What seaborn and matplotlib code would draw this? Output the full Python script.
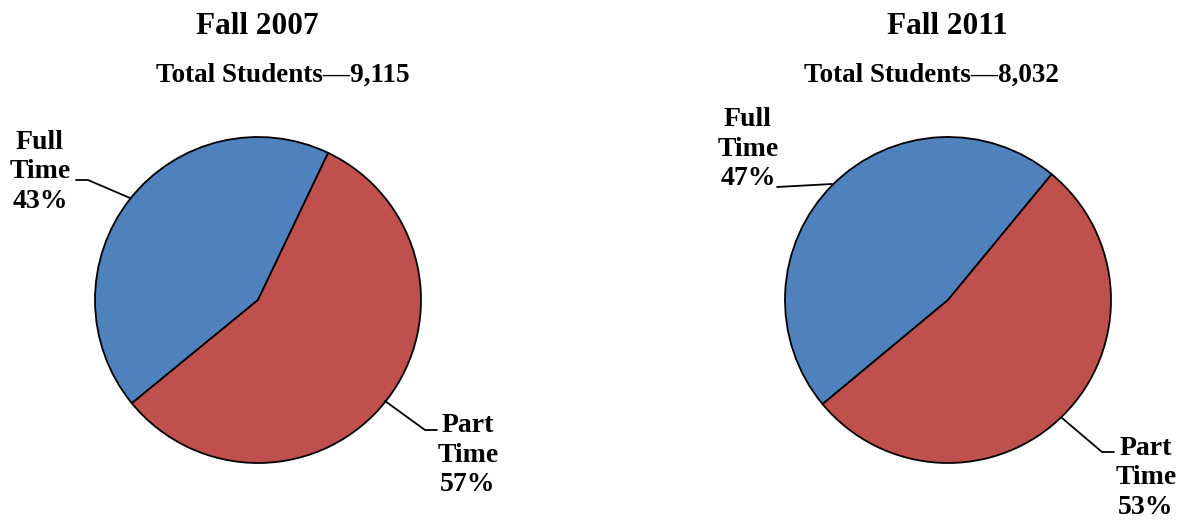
import numpy as np
import matplotlib
matplotlib.use('Agg')
import matplotlib.pyplot as plt
import seaborn as sns

# data
terms = ['Fall 2007', 'Fall 2011']
totals = ['9,115', '8,032']
categories = ['Full\nTime', 'Part\nTime']
shares_2007 = [43, 57]
shares_2011 = [47, 53]
colors = ['#4F81BD', '#C0504D']

sns.set_theme(style='white')
plt.rcParams['font.family'] = ['Liberation Serif', 'DejaVu Serif']
plt.rcParams['text.color'] = 'black'

W, H = 1180, 521
fig = plt.figure(figsize=(11.8, 5.21), dpi=100)
ax = fig.add_axes([0, 0, 1, 1])

def py(y):
    # pixel row -> data y
    return H - y

panels = [
    dict(vals=shares_2007, cx=258, sub_x=283, start=64.5,
         lab_full=(40, 172), lab_part=(468, 455),
         line_full=[(76, 180), (88, 180), (130, 198)],
         line_part=[(385, 401), (425, 430), (437, 430)]),
    dict(vals=shares_2011, cx=948, sub_x=931, start=50.5,
         lab_full=(748, 149), lab_part=(1146, 478),
         line_full=[(777, 187), (832, 184)],
         line_part=[(1062, 418), (1102, 452), (1114, 452)]),
]

for term, tot, p in zip(terms, totals, panels):
    ax.pie(p['vals'], colors=colors, startangle=p['start'], counterclock=True,
           center=(p['cx'], py(300)), radius=163,
           wedgeprops=dict(edgecolor='black', linewidth=1.3))
    ax.text(p['cx'] - 1, py(26), term, ha='center', va='center',
            fontsize=22.5, fontweight='bold', color='black')
    ax.text(p['sub_x'], py(75), 'Total Students\u2014' + tot, ha='center', va='center',
            fontsize=19.5, fontweight='bold', color='black')
    for cat, v, lab, line in zip(categories, p['vals'],
                                 [p['lab_full'], p['lab_part']],
                                 [p['line_full'], p['line_part']]):
        ax.text(lab[0], py(lab[1]), f'{cat}\n{v}%', ha='center', va='center',
                fontsize=20, fontweight='bold', linespacing=1.25, color='black')
        xs = [pt[0] for pt in line]
        ys = [py(pt[1]) for pt in line]
        ax.plot(xs, ys, color='black', linewidth=1.3)

ax.set_xlim(0, W)
ax.set_ylim(0, H)
ax.set_aspect('auto')
ax.axis('off')

fig.savefig('out.png', dpi=100, facecolor='white')
